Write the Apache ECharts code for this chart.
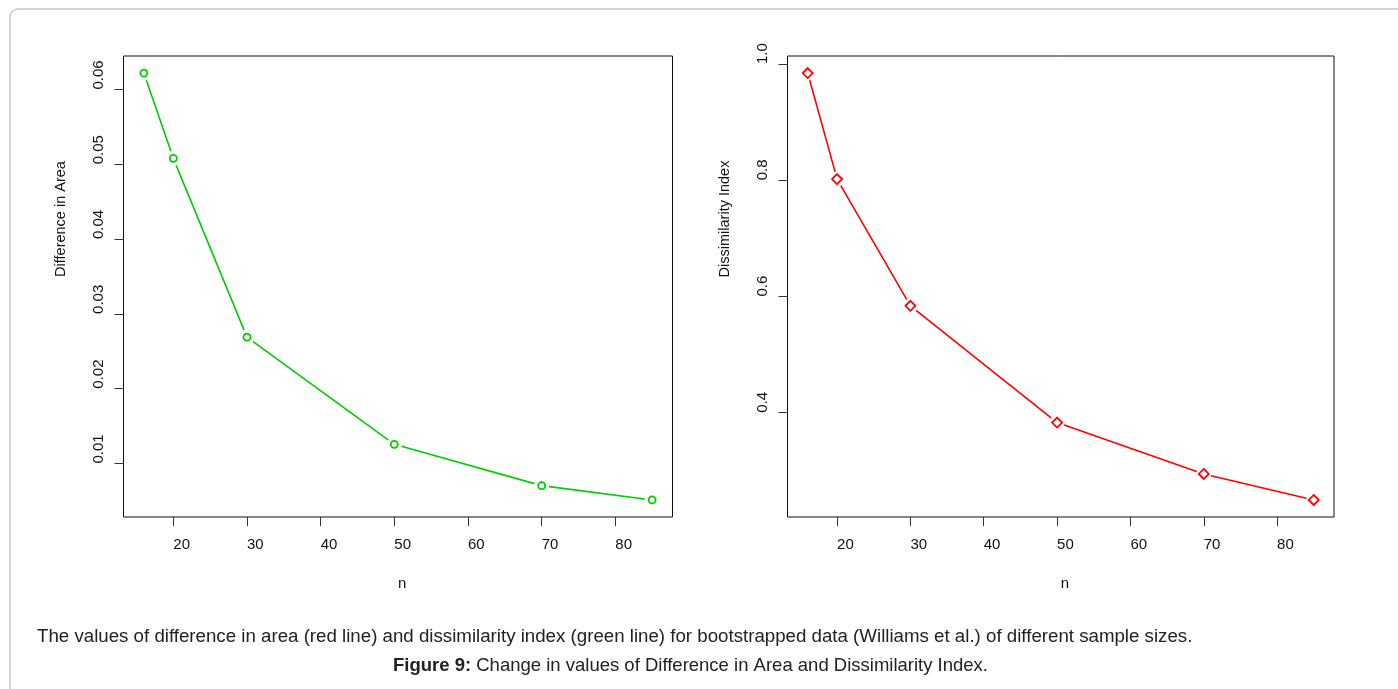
<!DOCTYPE html>
<html>
<head>
<meta charset="utf-8">
<script src="https://cdn.jsdelivr.net/npm/echarts@6/dist/echarts.min.js"></script>
<style>
html,body{margin:0;padding:0;background:#fff;}
#chart{width:1398px;height:689px;}
</style>
</head>
<body>
<div id="chart"></div>
<script>
// ---- data ----
const nValues = [16, 20, 30, 50, 70, 85];
const diffArea = [0.0622, 0.0508, 0.0269, 0.01257, 0.00704, 0.00513];
const dissimIndex = [0.9845, 0.802, 0.584, 0.383, 0.2946, 0.2499];
const xTicks = [20, 30, 40, 50, 60, 70, 80];
const leftYTicks = [0.01, 0.02, 0.03, 0.04, 0.05, 0.06];
const rightYTicks = [0.4, 0.6, 0.8, 1.0];
const captionLine1 = 'The values of difference in area (red line) and dissimilarity index (green line) for bootstrapped data (Williams et al.) of different sample sizes.';
const captionBold = 'Figure 9:';
const captionLine2 = ' Change in values of Difference in Area and Dissimilarity Index.';

// R-style axis ranges (data range extended by 4% each side)
function rRange(arr) {
  const mn = Math.min(...arr), mx = Math.max(...arr);
  const e = (mx - mn) * 0.04;
  return [mn - e, mx + e];
}
const xR = rRange(nValues);
const yL = rRange(diffArea);
const yR = rRange(dissimIndex);

const FONT = '"Liberation Sans", Arial, sans-serif';
const GREEN = '#00cd00';
const RED = '#ff0000';

function xAxisDef(gridIndex) {
  return {
    type: 'value', gridIndex, min: xR[0], max: xR[1],
    name: 'n', nameLocation: 'middle', nameGap: 59, nameMoveOverlap: false,
    nameTextStyle: { fontFamily: FONT, fontSize: 15, color: '#111', align: 'left', verticalAlign: 'top' },
    axisLine: { show: false },
    axisTick: { show: true, length: 9, inside: false, customValues: xTicks, lineStyle: { color: '#333', width: 1 } },
    axisLabel: { show: true, customValues: xTicks, margin: 20, align: 'left',
      fontFamily: FONT, fontSize: 15, color: '#111' },
    splitLine: { show: false }
  };
}
function yAxisDef(gridIndex, range, ticks, name, dec) {
  return {
    type: 'value', gridIndex, min: range[0], max: range[1],
    name, nameLocation: 'middle', nameGap: 55, nameMoveOverlap: false,
    nameTextStyle: { fontFamily: FONT, fontSize: 14.5, color: '#111', align: 'center', verticalAlign: 'bottom', padding: [0, 0, 0, 135] },
    axisLine: { show: false },
    axisTick: { show: true, length: 9, inside: false, customValues: ticks, lineStyle: { color: '#333', width: 1 } },
    axisLabel: { show: true, customValues: ticks, rotate: 90, margin: 17, align: 'left', verticalAlign: 'bottom',
      fontFamily: FONT, fontSize: 15, color: '#111', formatter: v => v.toFixed(dec) },
    splitLine: { show: false }
  };
}

function pairs(ys) { return nValues.map((n, i) => [n, ys[i]]); }

function seriesSet(idx, ys, color, symbol, size) {
  return [
    { type: 'line', xAxisIndex: idx, yAxisIndex: idx, data: pairs(ys), symbol: 'none', showSymbol: false,
      lineStyle: { color, width: 1.6 }, silent: true, z: 2 },
    { type: 'scatter', xAxisIndex: idx, yAxisIndex: idx, data: pairs(ys), symbol: 'circle', symbolSize: 15,
      itemStyle: { color: '#ffffff', borderWidth: 0, opacity: 1 }, silent: true, z: 3 },
    { type: 'scatter', xAxisIndex: idx, yAxisIndex: idx, data: pairs(ys), symbol, symbolSize: size,
      itemStyle: { color: '#ffffff', borderColor: color, borderWidth: 1.8, opacity: 1 }, silent: true, z: 4 }
  ];
}

const chart = echarts.init(document.getElementById('chart'), null, { renderer: 'canvas' });
chart.setOption({
  animation: false,
  backgroundColor: '#fff',
  graphic: [{
    type: 'rect', silent: true, z: -10,
    shape: { x: 10, y: 9, width: 1420, height: 720, r: 8 },
    style: { fill: 'none', stroke: '#c8c8c8', lineWidth: 1.5 }
  }],
  title: [
    { text: captionLine1, left: 37, top: 627, padding: 0,
      textStyle: { fontFamily: FONT, fontSize: 18.7, fontWeight: 'normal', color: '#222' } },
    { text: '{b|' + captionBold + '}' + captionLine2, left: 393, top: 656.5, padding: 0,
      textStyle: { fontFamily: FONT, fontSize: 18.5, fontWeight: 'normal', color: '#222',
        rich: { b: { fontFamily: FONT, fontSize: 18.5, fontWeight: 'bold', color: '#222' } } } }
  ],
  grid: [
    { left: 123.5, top: 56, width: 549, height: 461, show: true, borderColor: '#111', borderWidth: 1, backgroundColor: 'transparent' },
    { left: 787.5, top: 56, width: 546.5, height: 461, show: true, borderColor: '#111', borderWidth: 1, backgroundColor: 'transparent' }
  ],
  xAxis: [xAxisDef(0), xAxisDef(1)],
  yAxis: [
    yAxisDef(0, yL, leftYTicks, 'Difference in Area', 2),
    yAxisDef(1, yR, rightYTicks, 'Dissimilarity Index', 1)
  ],
  series: [
    ...seriesSet(0, diffArea, GREEN, 'circle', 7),
    ...seriesSet(1, dissimIndex, RED, 'diamond', 10)
  ]
});
</script>
</body>
</html>
